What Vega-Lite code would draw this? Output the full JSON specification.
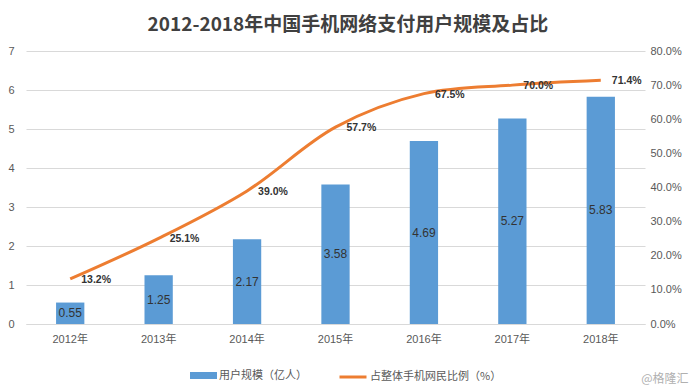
{
  "$schema": "https://vega.github.io/schema/vega-lite/v6.json",
  "autosize": {"type": "none"},
  "width": 619,
  "height": 273,
  "padding": {"left": 26, "top": 51, "right": 47, "bottom": 64},
  "background": "#ffffff",
  "title": {
    "text": "2012-2018年中国手机网络支付用户规模及占比",
    "frame": "bounds",
    "anchor": "middle",
    "fontSize": 19,
    "fontWeight": "bold",
    "font": "Noto Sans CJK SC",
    "color": "#404040",
    "offset": 10
  },
  "config": {
    "font": "Liberation Sans, Noto Sans CJK SC",
    "view": {"stroke": null},
    "axis": {"labelFont": "Liberation Sans, Noto Sans CJK SC", "labelColor": "#595959", "labelFontSize": 11, "ticks": false},
    "legend": {"labelFont": "Noto Sans CJK SC", "labelColor": "#595959", "labelFontSize": 11, "padding": 0}
  },
  "data": {
    "values": [
      {"year": "2012年", "users": 0.55, "pct": 0.132},
      {"year": "2013年", "users": 1.25, "pct": 0.251},
      {"year": "2014年", "users": 2.17, "pct": 0.390},
      {"year": "2015年", "users": 3.58, "pct": 0.577},
      {"year": "2016年", "users": 4.69, "pct": 0.675},
      {"year": "2017年", "users": 5.27, "pct": 0.700},
      {"year": "2018年", "users": 5.83, "pct": 0.714}
    ]
  },
  "encoding": {
    "x": {
      "field": "year",
      "type": "ordinal",
      "sort": null,
      "scale": {"paddingInner": 0.68, "paddingOuter": 0.34},
      "axis": {
        "title": "@格隆汇",
        "titleAnchor": "end",
        "titleAlign": "right",
        "titleBaseline": "middle",
        "titleX": 662,
        "titleY": 54,
        "titleFont": "Noto Sans CJK SC",
        "titleFontSize": 12,
        "titleFontWeight": "normal",
        "titleColor": "#B0B0B0",
        "labelAngle": 0,
        "labelPadding": 9,
        "domainColor": "#D9D9D9",
        "grid": false
      }
    }
  },
  "layer": [
    {
      "mark": {"type": "bar", "color": "#5B9BD5"},
      "encoding": {
        "y": {
          "field": "users",
          "type": "quantitative",
          "scale": {"domain": [0, 7]},
          "axis": {"title": null, "orient": "left", "values": [0, 1, 2, 3, 4, 5, 6, 7], "labelPadding": 12, "domain": false, "grid": true, "gridColor": "#D9D9D9"}
        },
        "fill": {
          "datum": "用户规模（亿人）",
          "scale": {"range": ["#5B9BD5"]},
          "legend": {
            "title": null,
            "orient": "none",
            "legendX": 164,
            "legendY": 311,
            "symbolType": "M-1,-0.26H1V0.26H-1Z",
            "symbolSize": 729,
            "symbolStrokeWidth": 0,
            "labelOffset": 2
          }
        }
      }
    },
    {
      "mark": {"type": "text", "color": "#333333", "fontSize": 12, "baseline": "middle"},
      "encoding": {
        "y": {"field": "users", "type": "quantitative", "scale": {"domain": [0, 14]}, "axis": null},
        "text": {"field": "users", "type": "quantitative", "format": ".2f"}
      }
    },
    {
      "layer": [
        {
          "mark": {"type": "line", "strokeWidth": 3, "interpolate": "catmull-rom"},
          "encoding": {
            "stroke": {
              "datum": "占整体手机网民比例（%）",
              "scale": {"range": ["#ED7D31"]},
              "legend": {
                "title": null,
                "orient": "none",
                "legendX": 312,
                "legendY": 311,
                "symbolType": "stroke",
                "symbolSize": 729,
                "symbolStrokeWidth": 3,
                "labelOffset": 2
              }
            }
          }
        },
        {
          "mark": {"type": "text", "color": "#333333", "fontSize": 10.5, "fontWeight": "bold", "align": "left", "baseline": "middle", "dx": 11, "dy": 1},
          "encoding": {
            "text": {"field": "pct", "type": "quantitative", "format": ".1%"}
          }
        }
      ],
      "encoding": {
        "y": {
          "field": "pct",
          "type": "quantitative",
          "scale": {"domain": [0, 0.8]},
          "axis": {"title": null, "orient": "right", "format": ".1%", "values": [0, 0.1, 0.2, 0.3, 0.4, 0.5, 0.6, 0.7, 0.8], "labelPadding": 5, "domain": false, "grid": false}
        }
      }
    }
  ],
  "resolve": {"scale": {"y": "independent", "fill": "independent", "stroke": "independent"}}
}
